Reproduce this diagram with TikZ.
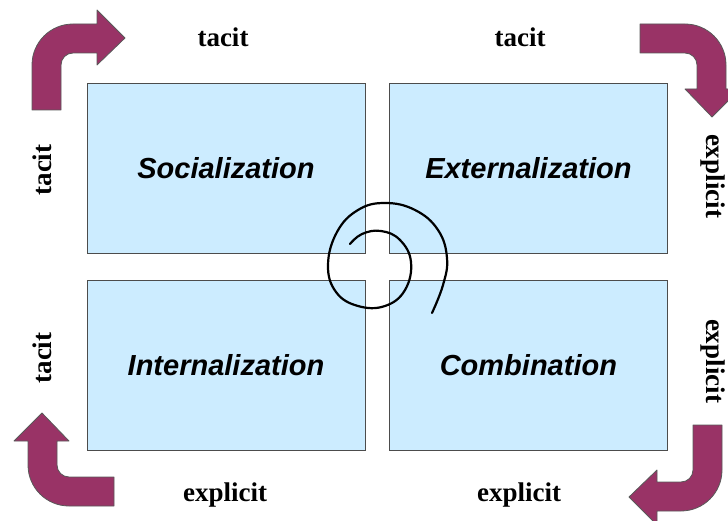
\documentclass[tikz,border=0pt]{standalone}
\usepackage{fontspec}
\setmainfont{Liberation Serif}
\newfontfamily\boxfont{Liberation Sans}
\usepackage{xcolor}
\usepackage{tikz}
\usetikzlibrary{positioning}

\definecolor{quadblue}{RGB}{204,236,255}
\definecolor{bentpurple}{RGB}{153,51,102}

\begin{document}
\begin{tikzpicture}[x=1pt, y=1pt,
  quad/.style={draw=black!70, fill=quadblue, minimum width=278pt, minimum height=170pt,
    inner sep=0pt, font=\boxfont\bfseries\itshape\fontsize{29}{34}\selectfont},
  side/.style={font=\bfseries\fontsize{27}{32}\selectfont, inner sep=0pt},
  bent/.style={fill=bentpurple, draw=black!65, line width=0.8pt, line join=round}]
\useasboundingbox (0,0) rectangle (728,-521);

% Quadrants
\node[quad] (soc) at (226,-168) {Socialization};
\node[quad, right=24pt of soc] (ext) {Externalization};
\node[quad, below=27pt of soc] (int) {Internalization};
\node[quad, below=27pt of ext] (com) {Combination};

% Side labels
\node[side] (tt1) at (223,-37) {tacit};
\node[side] (tt2) at (520,-37) {tacit};
\node[side] (be1) at (225,-495) {explicit};
\node[side] (be2) at (519,-495) {explicit};
\node[side, rotate=90] (lt1) at (42,-170) {tacit};
\node[side, rotate=90] (lt2) at (42,-358) {tacit};
\node[side, rotate=-90] (re1) at (713,-176) {explicit};
\node[side, rotate=-90] (re2) at (713,-361) {explicit};

% Bent arrows in the corners
\foreach \cx/\cy/\ang in {73/-65/0, 685/-65/-90, 681/-470/180, 69/-465/90} {
  \begin{scope}[shift={(\cx,\cy)}, rotate=\ang]
    \draw[bent] (-41,-45) -- (-41,0) arc (180:90:41pt) -- (24,41) -- (24,55)
      -- (52,27) -- (24,0) -- (24,12) -- (0,12) arc (90:180:12pt) -- (-12,-45) -- cycle;
  \end{scope}
}

% Spiral
\draw[line width=2.2pt, line cap=round] plot[smooth, tension=0.7] coordinates {
  (350,-244) (362,-234) (381,-231) (400,-240) (411,-262) (405,-290) (385,-306)
  (358,-306) (336,-292) (328,-265) (337,-232) (358,-210) (385,-203) (415,-210)
  (438,-230) (447,-258) (443,-285) (432,-313)};
\end{tikzpicture}
\end{document}
